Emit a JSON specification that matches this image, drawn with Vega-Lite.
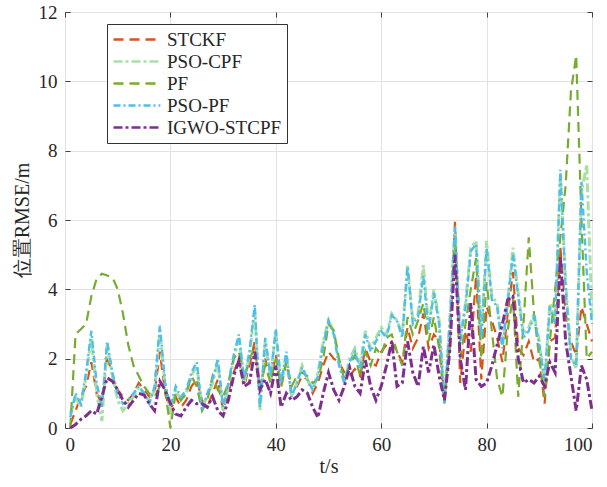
{
  "$schema": "https://vega.github.io/schema/vega-lite/v6.json",
  "width": 527,
  "height": 416,
  "autosize": {"type": "none"},
  "padding": {"left": 65, "top": 12, "right": 15, "bottom": 59},
  "background": "white",
  "config": {
    "view": {"stroke": "#404040", "strokeWidth": 1},
    "font": "Liberation Serif",
    "axis": {
      "labelFont": "Liberation Serif",
      "labelFontSize": 19,
      "labelColor": "#262626",
      "titleFont": "Liberation Serif",
      "titleFontSize": 20,
      "titleFontWeight": "normal",
      "titleColor": "#262626",
      "domain": false,
      "tickColor": "#404040",
      "tickSize": -5,
      "gridColor": "#e2e2e2",
      "gridWidth": 1
    },
    "legend": {
      "labelFont": "Liberation Serif",
      "labelFontSize": 19,
      "labelColor": "#262626",
      "labelLimit": 300,
      "labelOffset": 34,
      "rowPadding": 1,
      "padding": 5,
      "symbolType": "M-1,0H4.2",
      "symbolSize": 324,
      "symbolStrokeWidth": 2.5,
      "strokeColor": "#333333",
      "fillColor": "white"
    }
  },
  "data": {
    "values": [
      {"t":1,"STCKF":0.1,"PSO-CPF":0.4,"PF":0.0,"PSO-PF":0.3,"IGWO-STCPF":0.0},
      {"t":2,"STCKF":0.5,"PSO-CPF":0.9,"PF":2.7,"PSO-PF":1.0,"IGWO-STCPF":0.1},
      {"t":3,"STCKF":0.9,"PSO-CPF":0.6,"PF":2.85,"PSO-PF":0.7,"IGWO-STCPF":0.25},
      {"t":4,"STCKF":1.2,"PSO-CPF":1.5,"PF":3.0,"PSO-PF":1.6,"IGWO-STCPF":0.35},
      {"t":5,"STCKF":1.9,"PSO-CPF":2.6,"PF":3.8,"PSO-PF":2.8,"IGWO-STCPF":0.5},
      {"t":6,"STCKF":1.0,"PSO-CPF":1.0,"PF":4.3,"PSO-PF":1.3,"IGWO-STCPF":0.4},
      {"t":7,"STCKF":0.7,"PSO-CPF":0.2,"PF":4.45,"PSO-PF":0.6,"IGWO-STCPF":0.9},
      {"t":8,"STCKF":2.1,"PSO-CPF":2.4,"PF":4.4,"PSO-PF":2.5,"IGWO-STCPF":1.45},
      {"t":9,"STCKF":1.5,"PSO-CPF":1.5,"PF":4.35,"PSO-PF":1.6,"IGWO-STCPF":1.35},
      {"t":10,"STCKF":1.1,"PSO-CPF":0.8,"PF":4.0,"PSO-PF":1.0,"IGWO-STCPF":1.1},
      {"t":11,"STCKF":0.9,"PSO-CPF":0.5,"PF":3.3,"PSO-PF":0.7,"IGWO-STCPF":0.8},
      {"t":12,"STCKF":0.8,"PSO-CPF":0.7,"PF":2.4,"PSO-PF":0.8,"IGWO-STCPF":0.6},
      {"t":13,"STCKF":1.0,"PSO-CPF":0.9,"PF":1.8,"PSO-PF":1.0,"IGWO-STCPF":0.8},
      {"t":14,"STCKF":1.3,"PSO-CPF":1.2,"PF":1.5,"PSO-PF":1.2,"IGWO-STCPF":1.0},
      {"t":15,"STCKF":1.1,"PSO-CPF":1.0,"PF":1.2,"PSO-PF":1.0,"IGWO-STCPF":0.95},
      {"t":16,"STCKF":0.9,"PSO-CPF":0.8,"PF":1.0,"PSO-PF":0.7,"IGWO-STCPF":0.7},
      {"t":17,"STCKF":1.0,"PSO-CPF":1.1,"PF":0.9,"PSO-PF":1.2,"IGWO-STCPF":0.5},
      {"t":18,"STCKF":2.2,"PSO-CPF":2.8,"PF":1.2,"PSO-PF":2.95,"IGWO-STCPF":1.35},
      {"t":19,"STCKF":1.0,"PSO-CPF":1.2,"PF":1.1,"PSO-PF":1.3,"IGWO-STCPF":1.1},
      {"t":20,"STCKF":0.5,"PSO-CPF":0.4,"PF":0.0,"PSO-PF":0.6,"IGWO-STCPF":0.7},
      {"t":21,"STCKF":0.9,"PSO-CPF":1.1,"PF":1.0,"PSO-PF":1.2,"IGWO-STCPF":0.4},
      {"t":22,"STCKF":0.6,"PSO-CPF":0.8,"PF":0.8,"PSO-PF":0.9,"IGWO-STCPF":0.35},
      {"t":23,"STCKF":0.8,"PSO-CPF":1.0,"PF":1.0,"PSO-PF":1.1,"IGWO-STCPF":0.6},
      {"t":24,"STCKF":1.2,"PSO-CPF":1.5,"PF":1.5,"PSO-PF":1.6,"IGWO-STCPF":0.8},
      {"t":25,"STCKF":1.4,"PSO-CPF":1.8,"PF":1.2,"PSO-PF":1.9,"IGWO-STCPF":0.7},
      {"t":26,"STCKF":0.8,"PSO-CPF":0.6,"PF":0.5,"PSO-PF":0.5,"IGWO-STCPF":0.7},
      {"t":27,"STCKF":0.6,"PSO-CPF":0.9,"PF":0.8,"PSO-PF":1.0,"IGWO-STCPF":0.6},
      {"t":28,"STCKF":1.0,"PSO-CPF":1.3,"PF":1.5,"PSO-PF":1.4,"IGWO-STCPF":0.9},
      {"t":29,"STCKF":1.4,"PSO-CPF":1.9,"PF":1.1,"PSO-PF":2.0,"IGWO-STCPF":0.5},
      {"t":30,"STCKF":0.5,"PSO-CPF":0.5,"PF":0.9,"PSO-PF":0.6,"IGWO-STCPF":0.35},
      {"t":31,"STCKF":1.0,"PSO-CPF":1.2,"PF":1.3,"PSO-PF":1.3,"IGWO-STCPF":0.8},
      {"t":32,"STCKF":1.6,"PSO-CPF":2.0,"PF":2.0,"PSO-PF":2.1,"IGWO-STCPF":1.5},
      {"t":33,"STCKF":2.0,"PSO-CPF":2.6,"PF":2.2,"PSO-PF":2.7,"IGWO-STCPF":1.95},
      {"t":34,"STCKF":1.2,"PSO-CPF":1.3,"PF":1.4,"PSO-PF":1.4,"IGWO-STCPF":1.2},
      {"t":35,"STCKF":1.8,"PSO-CPF":2.1,"PF":2.0,"PSO-PF":2.2,"IGWO-STCPF":1.3},
      {"t":36,"STCKF":2.5,"PSO-CPF":3.4,"PF":2.3,"PSO-PF":3.55,"IGWO-STCPF":2.2},
      {"t":37,"STCKF":1.0,"PSO-CPF":0.5,"PF":1.2,"PSO-PF":0.6,"IGWO-STCPF":1.1},
      {"t":38,"STCKF":2.0,"PSO-CPF":2.5,"PF":1.8,"PSO-PF":2.6,"IGWO-STCPF":1.4},
      {"t":39,"STCKF":1.4,"PSO-CPF":1.4,"PF":1.3,"PSO-PF":1.5,"IGWO-STCPF":1.0},
      {"t":40,"STCKF":2.1,"PSO-CPF":2.8,"PF":2.0,"PSO-PF":2.85,"IGWO-STCPF":1.8},
      {"t":41,"STCKF":1.2,"PSO-CPF":1.2,"PF":1.2,"PSO-PF":1.3,"IGWO-STCPF":0.6},
      {"t":42,"STCKF":1.9,"PSO-CPF":2.1,"PF":1.9,"PSO-PF":2.2,"IGWO-STCPF":1.0},
      {"t":43,"STCKF":1.0,"PSO-CPF":0.9,"PF":1.2,"PSO-PF":0.9,"IGWO-STCPF":0.8},
      {"t":44,"STCKF":1.2,"PSO-CPF":1.3,"PF":1.5,"PSO-PF":1.3,"IGWO-STCPF":0.9},
      {"t":45,"STCKF":1.5,"PSO-CPF":1.8,"PF":1.6,"PSO-PF":1.75,"IGWO-STCPF":1.1},
      {"t":46,"STCKF":1.4,"PSO-CPF":1.4,"PF":1.5,"PSO-PF":1.4,"IGWO-STCPF":1.0},
      {"t":47,"STCKF":1.0,"PSO-CPF":1.1,"PF":1.3,"PSO-PF":1.1,"IGWO-STCPF":0.6},
      {"t":48,"STCKF":1.3,"PSO-CPF":1.6,"PF":1.4,"PSO-PF":1.5,"IGWO-STCPF":0.3},
      {"t":49,"STCKF":1.8,"PSO-CPF":2.5,"PF":2.0,"PSO-PF":2.4,"IGWO-STCPF":1.0},
      {"t":50,"STCKF":2.2,"PSO-CPF":3.1,"PF":3.0,"PSO-PF":3.1,"IGWO-STCPF":1.6},
      {"t":51,"STCKF":2.0,"PSO-CPF":2.8,"PF":2.8,"PSO-PF":2.7,"IGWO-STCPF":1.1},
      {"t":52,"STCKF":1.9,"PSO-CPF":1.9,"PF":2.0,"PSO-PF":1.8,"IGWO-STCPF":0.8},
      {"t":53,"STCKF":1.6,"PSO-CPF":1.3,"PF":1.4,"PSO-PF":1.3,"IGWO-STCPF":1.2},
      {"t":54,"STCKF":1.5,"PSO-CPF":2.0,"PF":1.8,"PSO-PF":1.9,"IGWO-STCPF":1.75},
      {"t":55,"STCKF":1.7,"PSO-CPF":2.3,"PF":2.1,"PSO-PF":2.2,"IGWO-STCPF":1.2},
      {"t":56,"STCKF":1.5,"PSO-CPF":1.8,"PF":1.5,"PSO-PF":1.7,"IGWO-STCPF":1.0},
      {"t":57,"STCKF":2.3,"PSO-CPF":2.8,"PF":2.2,"PSO-PF":2.7,"IGWO-STCPF":1.95},
      {"t":58,"STCKF":1.9,"PSO-CPF":2.3,"PF":1.8,"PSO-PF":2.2,"IGWO-STCPF":1.2},
      {"t":59,"STCKF":1.8,"PSO-CPF":2.6,"PF":2.3,"PSO-PF":2.5,"IGWO-STCPF":0.8},
      {"t":60,"STCKF":2.2,"PSO-CPF":2.9,"PF":2.1,"PSO-PF":2.8,"IGWO-STCPF":1.2},
      {"t":61,"STCKF":2.4,"PSO-CPF":2.7,"PF":2.6,"PSO-PF":2.6,"IGWO-STCPF":1.8},
      {"t":62,"STCKF":2.5,"PSO-CPF":3.3,"PF":2.7,"PSO-PF":3.25,"IGWO-STCPF":2.5},
      {"t":63,"STCKF":2.2,"PSO-CPF":3.1,"PF":2.2,"PSO-PF":3.1,"IGWO-STCPF":1.2},
      {"t":64,"STCKF":1.9,"PSO-CPF":2.7,"PF":1.8,"PSO-PF":2.6,"IGWO-STCPF":1.3},
      {"t":65,"STCKF":2.9,"PSO-CPF":4.7,"PF":3.2,"PSO-PF":4.65,"IGWO-STCPF":2.5},
      {"t":66,"STCKF":2.3,"PSO-CPF":3.1,"PF":2.7,"PSO-PF":3.0,"IGWO-STCPF":1.6},
      {"t":67,"STCKF":2.6,"PSO-CPF":3.3,"PF":3.1,"PSO-PF":3.2,"IGWO-STCPF":1.2},
      {"t":68,"STCKF":3.3,"PSO-CPF":4.7,"PF":3.6,"PSO-PF":4.4,"IGWO-STCPF":2.35},
      {"t":69,"STCKF":2.3,"PSO-CPF":2.9,"PF":2.5,"PSO-PF":2.8,"IGWO-STCPF":1.6},
      {"t":70,"STCKF":2.7,"PSO-CPF":4.0,"PF":3.2,"PSO-PF":3.9,"IGWO-STCPF":2.4},
      {"t":71,"STCKF":2.5,"PSO-CPF":3.1,"PF":2.3,"PSO-PF":3.0,"IGWO-STCPF":1.5},
      {"t":72,"STCKF":0.9,"PSO-CPF":0.8,"PF":0.7,"PSO-PF":0.7,"IGWO-STCPF":0.8},
      {"t":73,"STCKF":2.3,"PSO-CPF":3.1,"PF":2.5,"PSO-PF":3.0,"IGWO-STCPF":2.2},
      {"t":74,"STCKF":5.95,"PSO-CPF":5.8,"PF":5.5,"PSO-PF":5.8,"IGWO-STCPF":5.0},
      {"t":75,"STCKF":1.3,"PSO-CPF":2.6,"PF":2.0,"PSO-PF":2.5,"IGWO-STCPF":2.0},
      {"t":76,"STCKF":2.8,"PSO-CPF":3.6,"PF":3.0,"PSO-PF":3.5,"IGWO-STCPF":1.1},
      {"t":77,"STCKF":2.2,"PSO-CPF":5.2,"PF":4.0,"PSO-PF":5.1,"IGWO-STCPF":3.6},
      {"t":78,"STCKF":4.4,"PSO-CPF":5.4,"PF":4.9,"PSO-PF":5.3,"IGWO-STCPF":1.4},
      {"t":79,"STCKF":1.4,"PSO-CPF":2.7,"PF":2.0,"PSO-PF":2.6,"IGWO-STCPF":1.2},
      {"t":80,"STCKF":3.5,"PSO-CPF":5.4,"PF":4.2,"PSO-PF":5.2,"IGWO-STCPF":1.3},
      {"t":81,"STCKF":3.1,"PSO-CPF":3.8,"PF":2.8,"PSO-PF":3.7,"IGWO-STCPF":1.8},
      {"t":82,"STCKF":2.6,"PSO-CPF":3.6,"PF":1.4,"PSO-PF":3.5,"IGWO-STCPF":2.4},
      {"t":83,"STCKF":1.9,"PSO-CPF":2.4,"PF":0.9,"PSO-PF":2.3,"IGWO-STCPF":3.0},
      {"t":84,"STCKF":3.3,"PSO-CPF":3.7,"PF":2.8,"PSO-PF":3.6,"IGWO-STCPF":3.7},
      {"t":85,"STCKF":4.5,"PSO-CPF":5.2,"PF":3.8,"PSO-PF":5.0,"IGWO-STCPF":3.8},
      {"t":86,"STCKF":2.3,"PSO-CPF":3.9,"PF":0.9,"PSO-PF":3.8,"IGWO-STCPF":2.0},
      {"t":87,"STCKF":2.1,"PSO-CPF":2.7,"PF":3.0,"PSO-PF":2.6,"IGWO-STCPF":1.3},
      {"t":88,"STCKF":2.5,"PSO-CPF":2.9,"PF":5.5,"PSO-PF":2.8,"IGWO-STCPF":1.4},
      {"t":89,"STCKF":1.9,"PSO-CPF":3.3,"PF":3.3,"PSO-PF":3.2,"IGWO-STCPF":1.3},
      {"t":90,"STCKF":2.0,"PSO-CPF":2.5,"PF":2.0,"PSO-PF":2.4,"IGWO-STCPF":1.5},
      {"t":91,"STCKF":0.7,"PSO-CPF":1.2,"PF":0.9,"PSO-PF":1.4,"IGWO-STCPF":1.2},
      {"t":92,"STCKF":2.5,"PSO-CPF":3.6,"PF":2.5,"PSO-PF":3.5,"IGWO-STCPF":1.9},
      {"t":93,"STCKF":2.6,"PSO-CPF":3.1,"PF":4.0,"PSO-PF":3.0,"IGWO-STCPF":1.6},
      {"t":94,"STCKF":5.2,"PSO-CPF":7.3,"PF":5.5,"PSO-PF":7.45,"IGWO-STCPF":4.95},
      {"t":95,"STCKF":3.3,"PSO-CPF":4.2,"PF":7.0,"PSO-PF":4.0,"IGWO-STCPF":2.5},
      {"t":96,"STCKF":2.5,"PSO-CPF":2.1,"PF":9.7,"PSO-PF":2.0,"IGWO-STCPF":1.5},
      {"t":97,"STCKF":2.1,"PSO-CPF":1.7,"PF":10.75,"PSO-PF":1.8,"IGWO-STCPF":0.5},
      {"t":98,"STCKF":3.5,"PSO-CPF":6.8,"PF":6.0,"PSO-PF":7.1,"IGWO-STCPF":1.8},
      {"t":99,"STCKF":3.0,"PSO-CPF":7.6,"PF":2.0,"PSO-PF":4.5,"IGWO-STCPF":1.4},
      {"t":100,"STCKF":2.5,"PSO-CPF":3.2,"PF":2.2,"PSO-PF":3.0,"IGWO-STCPF":0.5}
    ]
  },
  "transform": [
    {"fold": ["STCKF", "PSO-CPF", "PF", "PSO-PF", "IGWO-STCPF"], "as": ["method", "rmse"]}
  ],
  "encoding": {
    "x": {"field": "t", "type": "quantitative", "scale": {"domain": [0, 100], "nice": false}},
    "y": {"field": "rmse", "type": "quantitative", "scale": {"domain": [0, 12], "nice": false}},
    "color": {
      "field": "method", "type": "nominal",
      "scale": {
        "domain": ["STCKF", "PSO-CPF", "PF", "PSO-PF", "IGWO-STCPF"],
        "range": ["#D95319", "#A9DFA5", "#77AC30", "#4DBEEE", "#7E2F8E"]
      },
      "legend": {
        "title": null, "orient": "none", "legendX": 42, "legendY": 12, "direction": "vertical"
      }
    },
    "strokeDash": {
      "field": "method", "type": "nominal",
      "scale": {
        "domain": ["STCKF", "PSO-CPF", "PF", "PSO-PF", "IGWO-STCPF"],
        "range": [[10, 6], [9, 3, 3, 3], [10, 6], [7, 3, 2, 3], [9, 3, 3, 3]]
      },
      "legend": {
        "title": null, "orient": "none", "legendX": 42, "legendY": 12, "direction": "vertical"
      }
    }
  },
  "resolve": {"axis": {"x": "independent", "y": "independent"}},
  "layer": [
    {
      "transform": [{"filter": {"field": "method", "equal": "STCKF"}}],
      "mark": {"type": "line", "strokeWidth": 2.2},
      "encoding": {
        "x": {"field": "t", "type": "quantitative", "scale": {"domain": [0, 100], "nice": false},
              "axis": {"orient": "bottom", "values": [0, 20, 40, 60, 80, 100], "grid": true, "title": "t/s", "labelPadding": 12, "titlePadding": 2}},
        "y": {"field": "rmse", "type": "quantitative", "scale": {"domain": [0, 12], "nice": false},
              "axis": {"orient": "left", "values": [0, 2, 4, 6, 8, 10, 12], "grid": true, "title": "位置RMSE/m", "labelPadding": 13, "titlePadding": 6}}
      }
    },
    {
      "transform": [{"filter": {"field": "method", "equal": "PSO-CPF"}}],
      "mark": {"type": "line", "strokeWidth": 3},
      "encoding": {
        "x": {"field": "t", "type": "quantitative", "axis": null},
        "y": {"field": "rmse", "type": "quantitative", "axis": null}
      }
    },
    {
      "transform": [{"filter": {"field": "method", "equal": "PF"}}],
      "mark": {"type": "line", "strokeWidth": 2.2},
      "encoding": {
        "x": {"field": "t", "type": "quantitative", "axis": null},
        "y": {"field": "rmse", "type": "quantitative", "axis": null}
      }
    },
    {
      "transform": [{"filter": {"field": "method", "equal": "PSO-PF"}}],
      "mark": {"type": "line", "strokeWidth": 2.4},
      "encoding": {
        "x": {"field": "t", "type": "quantitative", "axis": null},
        "y": {"field": "rmse", "type": "quantitative", "axis": null}
      }
    },
    {
      "transform": [{"filter": {"field": "method", "equal": "IGWO-STCPF"}}],
      "mark": {"type": "line", "strokeWidth": 3},
      "encoding": {
        "x": {"field": "t", "type": "quantitative",
              "axis": {"orient": "top", "values": [0, 20, 40, 60, 80, 100], "labels": false, "title": null, "grid": false}},
        "y": {"field": "rmse", "type": "quantitative",
              "axis": {"orient": "right", "values": [0, 2, 4, 6, 8, 10, 12], "labels": false, "title": null, "grid": false}}
      }
    }
  ]
}
